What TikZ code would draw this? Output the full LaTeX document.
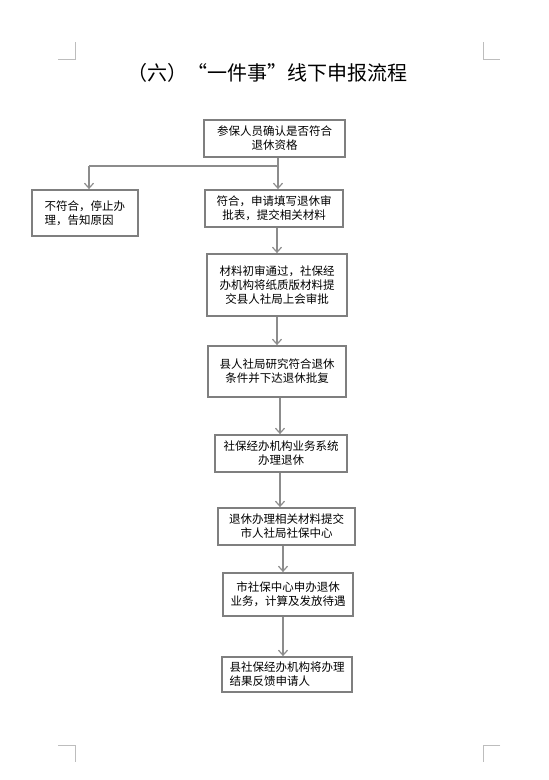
\documentclass[tikz,border=0pt]{standalone}
\usepackage{fontspec}
\newfontfamily\cjk{Noto Sans CJK SC}
\usetikzlibrary{arrows.meta}
\definecolor{boxgray}{HTML}{7F7F7F}
\definecolor{arrgray}{HTML}{8C8C8C}
\definecolor{markgray}{HTML}{BDBDBD}
\tikzset{
  flowbox/.style={draw=boxgray, line width=1.8pt, inner sep=0pt, align=center,
    font=\cjk\fontsize{11.5}{14}\selectfont, text=black},
  flowline/.style={draw=arrgray, line width=1.4pt},
  flowarr/.style={flowline, -{Straight Barb[length=5pt,width=9pt,line width=1.2pt]}},
  cornermark/.style={draw=markgray, line width=0.8pt}
}
\begin{document}
\begin{tikzpicture}[x=1pt,y=-1pt]
\useasboundingbox (0,0) rectangle (549,780);
\fill[white] (0,0) rectangle (549,780);
% corner marks
\draw[cornermark] (75,42) -- (75,59) -- (58,59);
\draw[cornermark] (483,42) -- (483,59) -- (500,59);
\draw[cornermark] (58,745) -- (75,745) -- (75,762);
\draw[cornermark] (500,745) -- (483,745) -- (483,762);
% title
\node[font=\cjk\fontsize{20}{24}\selectfont] (title) at (267.5,73) {（六）“一件事”线下申报流程};
% boxes
\node[flowbox, minimum width=141pt, minimum height=37pt] (b1) at (274.5,138.5) {参保人员确认是否符合\\退休资格};
\node[flowbox, align=left, minimum width=106pt, minimum height=46pt] (b2) at (85,213) {不符合，停止办\\理，告知原因};
\node[flowbox, minimum width=138pt, minimum height=37pt] (b3) at (274,208.5) {符合，申请填写退休审\\批表，提交相关材料};
\node[flowbox, minimum width=140pt, minimum height=62pt] (b4) at (277,285) {材料初审通过，社保经\\办机构将纸质版材料提\\交县人社局上会审批};
\node[flowbox, minimum width=138pt, minimum height=51pt] (b5) at (277,371.5) {县人社局研究符合退休\\条件并下达退休批复};
\node[flowbox, minimum width=132pt, minimum height=37pt] (b6) at (281,453.5) {社保经办机构业务系统\\办理退休};
\node[flowbox, minimum width=137pt, minimum height=37pt] (b7) at (286.5,526.5) {退休办理相关材料提交\\市人社局社保中心};
\node[flowbox, minimum width=130pt, minimum height=43pt] (b8) at (288,594.5) {市社保中心申办退休\\业务，计算及发放待遇};
\node[flowbox, align=left, minimum width=130pt, minimum height=35pt] (b9) at (287,674.5) {县社保经办机构将办理\\结果反馈申请人};
% connector guides
\coordinate (j) at (278,166);
\coordinate (jl) at (89,166);
\coordinate (x4) at (277,0);
\coordinate (x6) at (280,0);
\coordinate (x8) at (283,0);
% connectors
\draw[flowline] (b1.south -| j) -- (j);
\draw[flowline] (jl) -- (j);
\draw[flowarr] (jl) -- (b2.north -| jl);
\draw[flowarr] (j) -- (b3.north -| j);
\draw[flowarr] (b3.south -| x4) -- (b4.north -| x4);
\draw[flowarr] (b4.south -| x4) -- (b5.north -| x4);
\draw[flowarr] (b5.south -| x6) -- (b6.north -| x6);
\draw[flowarr] (b6.south -| x6) -- (b7.north -| x6);
\draw[flowarr] (b7.south -| x8) -- (b8.north -| x8);
\draw[flowarr] (b8.south -| x8) -- (b9.north -| x8);
\end{tikzpicture}
\end{document}
